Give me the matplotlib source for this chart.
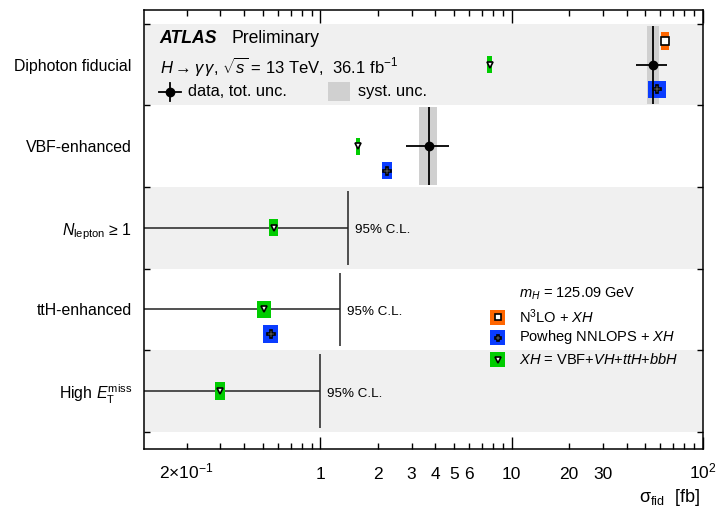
import matplotlib
matplotlib.use('Agg')
import matplotlib.pyplot as plt
from matplotlib.patches import Rectangle
from matplotlib.lines import Line2D

plt.rcParams['font.family'] = ['Liberation Sans', 'DejaVu Sans']
plt.rcParams['mathtext.fontset'] = 'custom'
plt.rcParams['mathtext.rm'] = 'Liberation Sans'
plt.rcParams['mathtext.it'] = 'Liberation Sans:italic'
plt.rcParams['mathtext.bf'] = 'Liberation Sans:bold'
plt.rcParams['mathtext.sf'] = 'Liberation Sans'

# fiducial regions, top to bottom
categories = ['Diphoton fiducial', 'VBF-enhanced', r'$N_{\mathrm{lepton}}$ ≥ 1',
              'ttH-enhanced', r'High $E_{\mathrm{T}}^{\mathrm{miss}}$']

# measured cross sections [fb]
meas_rows = [0, 1]
meas_val = [55.0, 3.7]
meas_tot_lo = [10.0, 0.9]
meas_tot_hi = [10.0, 1.0]
meas_syst_lo = [4.0, 0.4]
meas_syst_hi = [4.0, 0.4]

# 95% C.L. upper limits [fb]
limit_rows = [2, 3, 4]
limit_val = [1.39, 1.27, 1.00]

# predictions [fb] with uncertainties
n3lo_rows = [0]
n3lo_val = [63.5]
n3lo_err = [2.8]

powheg_rows = [0, 1, 3]
powheg_val = [58.0, 2.24, 0.55]
powheg_err = [6.0, 0.14, 0.05]

xh_rows = [0, 1, 2, 3, 4]
xh_val = [7.7, 1.57, 0.57, 0.51, 0.30]
xh_err = [0.25, 0.04, 0.03, 0.045, 0.018]

# x axis labels
major_ticks = [1, 10, 100]
major_labels = ['1', '10', '$10^2$']
minor_ticks = [0.2, 0.3, 0.4, 0.5, 0.6, 0.7, 0.8, 0.9,
               2, 3, 4, 5, 6, 7, 8, 9,
               20, 30, 40, 50, 60, 70, 80, 90]
minor_labels = ['2×10$^{-1}$', '', '', '', '', '', '', '',
                '2', '3', '4', '5', '6', '', '', '',
                '20', '30', '', '', '', '', '', '']

orange = '#ff6600'
blue = '#0a3cff'
green = '#00cc00'
band_grey = '#f0f0f0'
syst_grey = '#d0d0d0'

W, H = 721, 513
fig = plt.figure(figsize=(W / 100, H / 100), dpi=100)
ax = fig.add_axes([144.3 / W, 1 - 449 / H, (702.7 - 144.3) / W, (449 - 10) / H])

xmin, xmax = 0.12, 100
ax.set_xscale('log')
ax.set_xlim(xmin, xmax)
ax.set_ylim(4.71, -0.67)

# alternating grey bands
for i in range(len(categories)):
    if i % 2 == 0:
        ax.axhspan(i - 0.5, i + 0.5, color=band_grey, lw=0, zorder=0)

box_h = 0.21


def pred_boxes(rows, vals, errs, offset, color, marker, ms):
    ys = [r + offset for r in rows]
    lefts = [v - e for v, e in zip(vals, errs)]
    widths = [2 * e for e in errs]
    ax.barh(ys, widths, left=lefts, height=box_h, color=color, lw=0, zorder=3)
    ax.plot(vals, ys, ls='none', marker=marker, ms=ms, mfc='white', mec='black',
            mew=1.2, zorder=4)


# measurement: syst band, then total error bar spanning the row
for r, v, lo, hi in zip(meas_rows, meas_val, meas_syst_lo, meas_syst_hi):
    ax.barh(r, lo + hi, left=v - lo, height=0.96, color=syst_grey, lw=0, zorder=1)

pred_boxes(n3lo_rows, n3lo_val, n3lo_err, -0.29, orange, 's', 5.5)
pred_boxes(powheg_rows, powheg_val, powheg_err, 0.30, blue, 'P', 5.5)
pred_boxes(xh_rows, xh_val, xh_err, 0.0, green, 'v', 5)

ax.errorbar(meas_val, meas_rows, xerr=[meas_tot_lo, meas_tot_hi], yerr=0.48,
            fmt='o', color='black', ms=6, elinewidth=1.3, capsize=0, zorder=5)

# upper limits
for r, lim in zip(limit_rows, limit_val):
    ax.hlines(r, xmin, lim, color='#222222', lw=1.1, zorder=2)
    ax.vlines(lim, r - 0.45, r + 0.45, color='#222222', lw=1.1, zorder=2)
    ax.text(lim * 1.09, r + 0.03, '95% C.L.', fontsize=9.6, va='center', ha='left')

# ticks
ax.set_xticks(major_ticks)
ax.set_xticklabels(major_labels)
ax.set_xticks(minor_ticks, minor=True)
ax.set_xticklabels(minor_labels, minor=True)
ax.tick_params(axis='x', which='both', direction='in', top=True, bottom=True,
               labelsize=12.5, pad=21.5, width=1)
ax.tick_params(axis='x', which='major', length=9)
ax.tick_params(axis='x', which='minor', length=4.3)
for lab in ax.get_xticklabels() + ax.get_xticklabels(minor=True):
    lab.set_verticalalignment('baseline')

ax.set_yticks(range(len(categories)))
ax.set_yticklabels(categories)
ax.set_yticks([i - 0.5 for i in range(len(categories) + 1)], minor=True)
ax.tick_params(axis='y', which='major', length=0, pad=9, labelsize=11.4)
ax.tick_params(axis='y', which='minor', direction='in', left=True, right=True,
               length=4.5, width=1)
for s in ax.spines.values():
    s.set_linewidth(1.1)


def fx(x):
    return x / W


def fy(y):
    return 1 - y / H


# header text
fig.text(fx(159.5), fy(38.5), 'ATLAS', fontsize=12.7, fontweight='bold',
         fontstyle='italic', va='center', ha='left')
fig.text(fx(231), fy(38.5), 'Preliminary', fontsize=12.7, va='center', ha='left')
fig.text(fx(159.5), fy(66), r'$H\rightarrow\gamma\,\gamma$, $\sqrt{s}$ = 13 TeV,  36.1 fb$^{-1}$',
         fontsize=12, va='center', ha='left')

# data / syst legend
fig.add_artist(Line2D([fx(158.8), fx(181.3)], [fy(91.5), fy(91.5)], color='black', lw=1.3,
                      transform=fig.transFigure))
fig.add_artist(Line2D([fx(170), fx(170)], [fy(83), fy(100.5)], color='black', lw=1.3,
                      transform=fig.transFigure))
fig.add_artist(Line2D([fx(170)], [fy(91.5)], marker='o', ms=6, color='black',
                      transform=fig.transFigure))
fig.text(fx(188), fy(91.5), 'data, tot. unc.', fontsize=11.8, va='center', ha='left')
fig.add_artist(Rectangle((fx(327.7), fy(100.5)), fx(22.5), 18.5 / H, color=syst_grey,
                         lw=0, transform=fig.transFigure))
fig.text(fx(357.5), fy(91.5), 'syst. unc.', fontsize=11.8, va='center', ha='left')

# prediction legend
fig.text(fx(519), fy(294), r'$m_H$ = 125.09 GeV', fontsize=10.5, va='center', ha='left')
leg_items = [(orange, 's', r'N$^3$LO + $XH$'),
             (blue, 'P', r'Powheg NNLOPS + $XH$'),
             (green, 'v', r'$XH$ = VBF+$VH$+$ttH$+$bbH$')]
leg_y = [317, 337.5, 359.5]
for (c, m, lab), yy in zip(leg_items, leg_y):
    fig.add_artist(Rectangle((fx(490), fy(yy + 7.5)), fx(15), 15 / H, color=c, lw=0,
                             transform=fig.transFigure))
    fig.add_artist(Line2D([fx(497.5)], [fy(yy)], marker=m, ms=5, mfc='white', mec='black',
                          mew=1.2, ls='none', transform=fig.transFigure))
    fig.text(fx(519), fy(yy), lab, fontsize=10.5, va='center', ha='left')

# x axis title
fig.text(fx(700), fy(497), 'σ$_{\\mathrm{fid}}$  [fb]', fontsize=13, va='center', ha='right')

fig.savefig('out.png', dpi=100)
